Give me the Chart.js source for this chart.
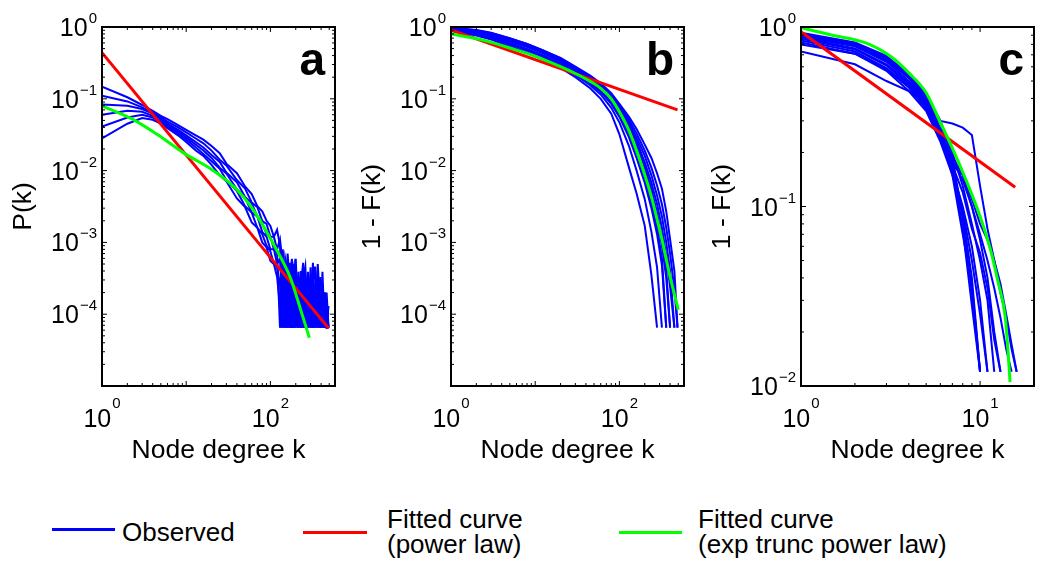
<!DOCTYPE html>
<html>
<head>
<meta charset="utf-8">
<script src="https://cdn.jsdelivr.net/npm/chart.js@4.4.0/dist/chart.umd.min.js"></script>
<style>
  html, body { margin: 0; padding: 0; background: #fff; }
  #wrap { position: relative; width: 1050px; height: 582px; overflow: hidden; font-family: "Liberation Sans", Arial, sans-serif; }
  canvas.panel { position: absolute; top: 0; }
  .leg-line { position: absolute; height: 3px; }
  .leg-text { position: absolute; font-size: 26px; line-height: 25px; color: #000; white-space: nowrap; }
</style>
</head>
<body>
<div id="wrap">
  <canvas id="chartA" class="panel" width="350" height="470" style="left:0px"></canvas>
  <canvas id="chartB" class="panel" width="350" height="470" style="left:349px"></canvas>
  <canvas id="chartC" class="panel" width="350" height="470" style="left:699px"></canvas>
  <div id="legend"></div>
</div>
<script>
'use strict';

// ===== AXIS LABELS (exponents of 10) =====
const xLabelsAB = [0, 2];
const xLabelsC = [0, 1];
const yLabelsAB = [0, -1, -2, -3, -4];
const yLabelsC = [0, -1, -2];

// ===== PANEL a : P(k) =====
const kA = [1,2,3,4,5,6,8,10,13,16,20,25,30,40,50,60,70,80,90,100,110,120,130,140,150,160,170,180,190,200,215,230,245,260,280,300,320,340,365,390,415,440,465,490];
const obsA1 = [.148,.105,.082,.068,.058,.052,.043,.037,.031,.027,.022,.0175,.0125,.0092,.0060,.0047,.0032,.0027,.0020,.0017,.0012,.0015,.0009,6.5e-5,.0006,.0004,6.5e-5,.0005,6.5e-5,.00035,6.5e-5,.0004,1.3e-4,.0003,6.5e-5,.00045,6.5e-5,.00026,1.3e-4,.0003,6.5e-5,.00015,6.5e-5,6.5e-5];
const obsA2 = [.11,.092,.076,.064,.055,.048,.040,.034,.028,.024,.019,.0142,.0118,.0074,.0056,.0036,.0031,.0020,.0018,.0012,.0012,.0008,.0011,.0005,6.5e-5,.0007,.00026,6.5e-5,.0005,1.3e-4,.00033,6.5e-5,.00046,6.5e-5,.00033,1.3e-4,.00052,6.5e-5,.0004,6.5e-5,.00026,6.5e-5,1.3e-4,6.5e-5];
const obsA3 = [.083,.08,.072,.062,.052,.045,.037,.031,.025,.021,.0165,.0132,.0094,.0069,.0043,.0035,.0023,.0019,.0013,.0012,.0008,.0007,6.5e-5,.0008,.0003,6.5e-5,.00046,1.3e-4,6.5e-5,.0004,2e-4,6.5e-5,.0003,.00046,6.5e-5,.0002,.00039,6.5e-5,.0005,1.3e-4,6.5e-5,.0002,6.5e-5,1.3e-4];
const obsA4 = [.06,.068,.066,.058,.049,.043,.035,.029,.023,.019,.015,.011,.0091,.0055,.0042,.0026,.0023,.0014,.0012,.0008,.0008,.0005,.0006,1.3e-4,.00052,6.5e-5,.0003,.00059,6.5e-5,.00026,6.5e-5,.00039,6.5e-5,2e-4,.00039,6.5e-5,.00026,.00046,6.5e-5,.00033,6.5e-5,2e-4,6.5e-5,6.5e-5];
const obsA5 = [.041,.055,.06,.055,.047,.041,.033,.027,.021,.017,.0135,.0106,.0074,.0052,.0032,.0026,.0016,.0013,.0009,.00075,.0005,.00045,.00026,6.5e-5,.00039,2e-4,6.5e-5,.00033,.00046,6.5e-5,.00039,1.3e-4,6.5e-5,.00033,1.3e-4,6.5e-5,.00033,1.3e-4,.00026,6.5e-5,.00039,6.5e-5,2e-4,6.5e-5];
const obsA6 = [.028,.045,.054,.051,.045,.039,.031,.025,.019,.016,.012,.0086,.0071,.0041,.0031,.0019,.0016,.0010,.00085,.00055,.0005,.00033,1.3e-4,.00046,6.5e-5,.00033,.00052,6.5e-5,.00026,.00059,6.5e-5,.00026,.00052,6.5e-5,2e-4,.00033,6.5e-5,2e-4,6.5e-5,.00026,1.3e-4,6.5e-5,1.3e-4,6.5e-5];
// dense tail of panel a: jagged top of the solid band above the 1/N floor
const kAtail = [128,135,145,155,165,175,185,195,205,220,235,250,265,285,305,325,345,370,395,420,445,470,495];
const obsAtail = [2.6e-4,3.3e-4,2.6e-4,3.9e-4,2.6e-4,3.3e-4,2e-4,3.3e-4,2.6e-4,2e-4,3.3e-4,2.6e-4,2e-4,2.6e-4,3.3e-4,2e-4,2.6e-4,2e-4,2.6e-4,1.3e-4,2e-4,1.3e-4,1e-4];
const floorA = 6.5e-5;
const kRedA = [1, 490];
const redA = [0.44, 6.4e-5];
const kGreenA = [1, 2.3, 4.5, 9.2, 20, 31.6, 48, 66, 109, 173, 229, 290];
const greenA = [0.08, 0.052, 0.032, 0.0178, 0.0104, 0.0070, 0.0043, 0.0026, 0.00094, 0.00032, 0.000115, 0.000047];

// ===== PANEL b : 1 - F(k) =====
const kB = [1,2,3,5,8,12,20,30,45,60,80,100,130,160,200,240,280,320,360,400,450,490];
const obsB1 = [.88,.76,.67,.54,.44,.36,.27,.20,.14,.10,.062,.032,.011,.0048,.0017,3.5e-4,6.5e-5];
const obsB2 = [.92,.80,.70,.57,.47,.39,.29,.215,.155,.115,.075,.047,.022,.010,.0040,.0014,4.5e-4,6.5e-5];
const obsB3 = [.94,.83,.73,.60,.49,.41,.31,.23,.165,.125,.085,.056,.029,.015,.0068,.0030,.0013,4.8e-4,6.5e-5];
const obsB4 = [.90,.80,.71,.59,.49,.41,.31,.235,.17,.13,.09,.060,.033,.018,.0082,.0036,.0016,6e-4,6.5e-5];
const obsB5 = [.96,.86,.77,.64,.53,.44,.33,.245,.18,.135,.095,.065,.037,.021,.010,.0048,.0022,9e-4,3.2e-4,6.5e-5];
const obsB6 = [.94,.85,.76,.63,.53,.44,.335,.25,.185,.14,.10,.069,.040,.023,.0115,.0056,.0026,.0011,4e-4,6.5e-5];
const obsB7 = [.97,.88,.80,.67,.56,.46,.35,.26,.19,.145,.103,.072,.043,.026,.013,.0068,.0034,.0016,6.5e-4,2.4e-4,6.5e-5];
const obsB8 = [.95,.88,.80,.67,.56,.47,.355,.27,.20,.15,.108,.076,.047,.029,.016,.0086,.0045,.0023,.0010,4e-4,6.5e-5];
const obsB9 = [.98,.91,.83,.70,.58,.48,.365,.275,.205,.158,.113,.080,.051,.033,.019,.011,.0062,.0034,.0016,7e-4,2.2e-4,6.5e-5];
const obsB10 = [.97,.90,.82,.69,.58,.48,.37,.28,.21,.165,.12,.085,.056,.038,.023,.015,.0092,.0056,.0027,.0011,4e-4,6.5e-5];
const kRedB = [1, 490];
const redB = [0.91, 0.07];
const kGreenB = [1,2,3,5,8,12,20,30,45,60,80,100,130,160,200,240,280,320,360,400,450,500];
const greenB = [0.80,0.69,0.61,0.51,0.43,0.36,0.28,0.225,0.175,0.14,0.10,0.066,0.036,0.019,0.0088,0.0043,0.0021,0.0011,5.8e-4,3.3e-4,1.9e-4,1.15e-4];

// ===== PANEL c : 1 - F(k) =====
const kC = [1,2,3,4,5,6,7,8,9,10,11,12,13,14,15,16];
const obsC1 = [.93,.82,.69,.54,.42,.30,.19,.085,.033,.012];
const obsC2 = [.91,.80,.67,.53,.41,.27,.17,.075,.028,.012];
const obsC3 = [.88,.78,.64,.50,.39,.25,.15,.07,.036,.012];
const obsC4 = [.86,.75,.61,.48,.37,.26,.16,.10,.06,.03,.012];
const obsC5 = [.92,.81,.68,.55,.42,.30,.20,.13,.08,.05,.03,.012];
const obsC6 = [.84,.73,.59,.47,.36,.25,.17,.12,.075,.055,.035,.018,.012];
const obsC7 = [.90,.79,.65,.52,.40,.29,.19,.15,.10,.065,.04,.02,.012];
const obsC8 = [.87,.76,.62,.49,.38,.27,.18,.14,.10,.07,.05,.035,.024,.016,.012];
const obsC9 = [.89,.79,.66,.52,.39,.30,.29,.275,.25,.13,.075,.05,.033,.024,.016,.012];
const obsC10 = [.80,.71,.58,.46,.35,.24,.17,.15,.11,.08,.065,.05,.037,.025,.017,.012];
const obsC11 = [.73,.62,.50,.44,.37,.26,.16,.09,.04,.012];
const obsC12 = [.82,.71,.57,.44,.34,.23,.15,.095,.05,.025,.012];
const kRedC = [1, 15.7];
const redC = [0.94, 0.128];
const kGreenC = [1, 1.5, 2.3, 3.2, 4, 5, 5.8, 7.07, 8.46, 10, 11.4, 12.6, 13.8, 14.3, 14.7];
const greenC = [0.99, 0.90, 0.815, 0.68, 0.555, 0.43, 0.316, 0.207, 0.136, 0.088, 0.058, 0.038, 0.0245, 0.016, 0.0105];

// ===== LEGEND =====
const seriesNames = ['Observed', 'Fitted curve\n(power law)', 'Fitted curve\n(exp trunc power law)'];
const seriesColors = ['#0000ff', '#ff0000', '#00ff00'];

const FONT = '"Liberation Sans", Arial, sans-serif';
Chart.defaults.font.family = FONT;

function line(ks, vs, color, width, order, smooth) {
    return {
        data: vs.map((v, i) => ({ x: ks[i], y: v })),
        borderColor: color, borderWidth: width, pointRadius: 0, fill: false,
        order: order, tension: 0,
        cubicInterpolationMode: smooth ? 'monotone' : 'default',
    };
}

function powLabel(ctx, e, x, y, mode) {
    const base = '10';
    const sup = e < 0 ? '\u2212' + (-e) : String(e);
    ctx.font = '25px ' + FONT; const wb = ctx.measureText(base).width;
    ctx.font = '15px ' + FONT; const ws = ctx.measureText(sup).width;
    let x0, by, sy;
    if (mode === 'y') { x0 = x - wb - ws - 1; by = y + 9; sy = y - 4; }
    else { x0 = x - (wb + ws + 1) / 2; by = y; sy = y - 19; }
    ctx.textAlign = 'left'; ctx.textBaseline = 'alphabetic'; ctx.fillStyle = '#000';
    ctx.font = '25px ' + FONT; ctx.fillText(base, x0, by);
    ctx.font = '15px ' + FONT; ctx.fillText(sup, x0 + wb + 1, sy);
}

// khung + vạch chia kiểu MATLAB (vạch hướng vào trong)
const matlabAxes = {
    id: 'matlabAxes',
    afterDatasetsDraw(chart, args, opts) {
        const { ctx, chartArea: { left, right, top, bottom }, scales: { x, y } } = chart;
        ctx.save();
        ctx.strokeStyle = '#000'; ctx.lineWidth = 1;
        ctx.beginPath();
        for (let e = Math.floor(Math.log10(x.min)); e <= Math.ceil(Math.log10(x.max)); e++) {
            for (let m = 1; m <= 9; m++) {
                const v = m * Math.pow(10, e);
                if (v < x.min || v > x.max) continue;
                const px = x.getPixelForValue(v), len = m === 1 ? 5 : 3;
                ctx.moveTo(px, bottom); ctx.lineTo(px, bottom - len);
                ctx.moveTo(px, top); ctx.lineTo(px, top + len);
            }
        }
        for (let e = Math.floor(Math.log10(y.min)); e <= Math.ceil(Math.log10(y.max)); e++) {
            for (let m = 1; m <= 9; m++) {
                const v = m * Math.pow(10, e);
                if (v < y.min * 0.999 || v > y.max * 1.001) continue;
                const py = y.getPixelForValue(v), len = m === 1 ? 5 : 3;
                ctx.moveTo(left, py); ctx.lineTo(left + len, py);
                ctx.moveTo(right, py); ctx.lineTo(right - len, py);
            }
        }
        ctx.stroke();
        ctx.lineWidth = 2;
        ctx.strokeRect(left, top, right - left, bottom - top);

        opts.xLabels.forEach(e => powLabel(ctx, e, x.getPixelForValue(Math.pow(10, e)), bottom + 41, 'x'));
        opts.yLabels.forEach(e => powLabel(ctx, e, left - 5, y.getPixelForValue(Math.pow(10, e)), 'y'));

        ctx.font = 'bold 46px ' + FONT; ctx.textAlign = 'right'; ctx.textBaseline = 'alphabetic';
        ctx.fillText(opts.letter, right - 10, top + 48);
        ctx.restore();
    }
};

function makePanel(id, datasets, p) {
    return new Chart(document.getElementById(id), {
        type: 'line',
        data: { datasets: datasets },
        options: {
            responsive: false, animation: false,
            layout: { padding: { top: 27, right: 15, left: 0, bottom: 0 } },
            plugins: {
                legend: { display: false }, tooltip: { enabled: false },
                matlabAxes: { xLabels: p.xLabels, yLabels: p.yLabels, letter: p.letter },
            },
            scales: {
                x: {
                    type: 'logarithmic', min: 1, max: p.xMax,
                    grid: { display: false }, border: { display: false }, ticks: { display: false },
                    title: { display: true, text: 'Node degree k', color: '#000', font: { size: 26.5 }, padding: { top: 0, bottom: 3 } },
                    afterFit: s => { s.height = 84; },
                },
                y: {
                    type: 'logarithmic', min: p.yMin, max: 1,
                    grid: { display: false }, border: { display: false }, ticks: { display: false },
                    title: { display: true, text: p.yTitle, color: '#000', font: { size: 26.5 }, padding: { top: 8, bottom: 0 } },
                    afterFit: s => { s.width = 102; },
                },
            },
        },
        plugins: [matlabAxes],
    });
}

const blue = seriesColors[0], red = seriesColors[1], green = seriesColors[2];

const tailA = line(kAtail, obsAtail, blue, 1, 3, false);
tailA.fill = { value: floorA };
tailA.backgroundColor = blue;

makePanel('chartA', [
    ...[obsA1, obsA2, obsA3, obsA4, obsA5, obsA6].map(s => line(kA, s, blue, 2, 2, false)),
    tailA,
    line(kRedA, redA, red, 3, 1, false),
    line(kGreenA, greenA, green, 3, 0, true),
], { xMax: 585, yMin: 1e-5, xLabels: xLabelsAB, yLabels: yLabelsAB, yTitle: 'P(k)', letter: 'a' });

makePanel('chartB', [
    ...[obsB1, obsB2, obsB3, obsB4, obsB5, obsB6, obsB7, obsB8, obsB9, obsB10].map(s => line(kB, s, blue, 2, 2, false)),
    line(kRedB, redB, red, 3, 1, false),
    line(kGreenB, greenB, green, 3, 0, true),
], { xMax: 585, yMin: 1e-5, xLabels: xLabelsAB, yLabels: yLabelsAB, yTitle: '1 - F(k)', letter: 'b' });

makePanel('chartC', [
    ...[obsC1, obsC2, obsC3, obsC4, obsC5, obsC6, obsC7, obsC8, obsC9, obsC10, obsC11, obsC12].map(s => line(kC, s, blue, 2, 2, false)),
    line(kRedC, redC, red, 3, 1, false),
    line(kGreenC, greenC, green, 3, 0, true),
], { xMax: 20, yMin: 0.01, xLabels: xLabelsC, yLabels: yLabelsC, yTitle: '1 - F(k)', letter: 'c' });

// ===== LEGEND (HTML) =====
const legPos = [
    { lx: 52, lw: 63, ly: 528, tx: 122, ty: 520, h: 2.5 },
    { lx: 303, lw: 64, ly: 531, tx: 387, ty: 507, h: 3 },
    { lx: 619, lw: 63, ly: 531, tx: 698, ty: 507, h: 3 },
];
const legend = document.getElementById('legend');
seriesNames.forEach((name, i) => {
    const p = legPos[i];
    const ln = document.createElement('div');
    ln.className = 'leg-line';
    ln.style.cssText = `left:${p.lx}px;top:${p.ly}px;width:${p.lw}px;height:${p.h}px;background:${seriesColors[i]}`;
    legend.appendChild(ln);
    const tx = document.createElement('div');
    tx.className = 'leg-text';
    tx.style.left = p.tx + 'px'; tx.style.top = p.ty + 'px';
    tx.innerHTML = name.split('\n').join('<br>');
    legend.appendChild(tx);
});
</script>
</body>
</html>
